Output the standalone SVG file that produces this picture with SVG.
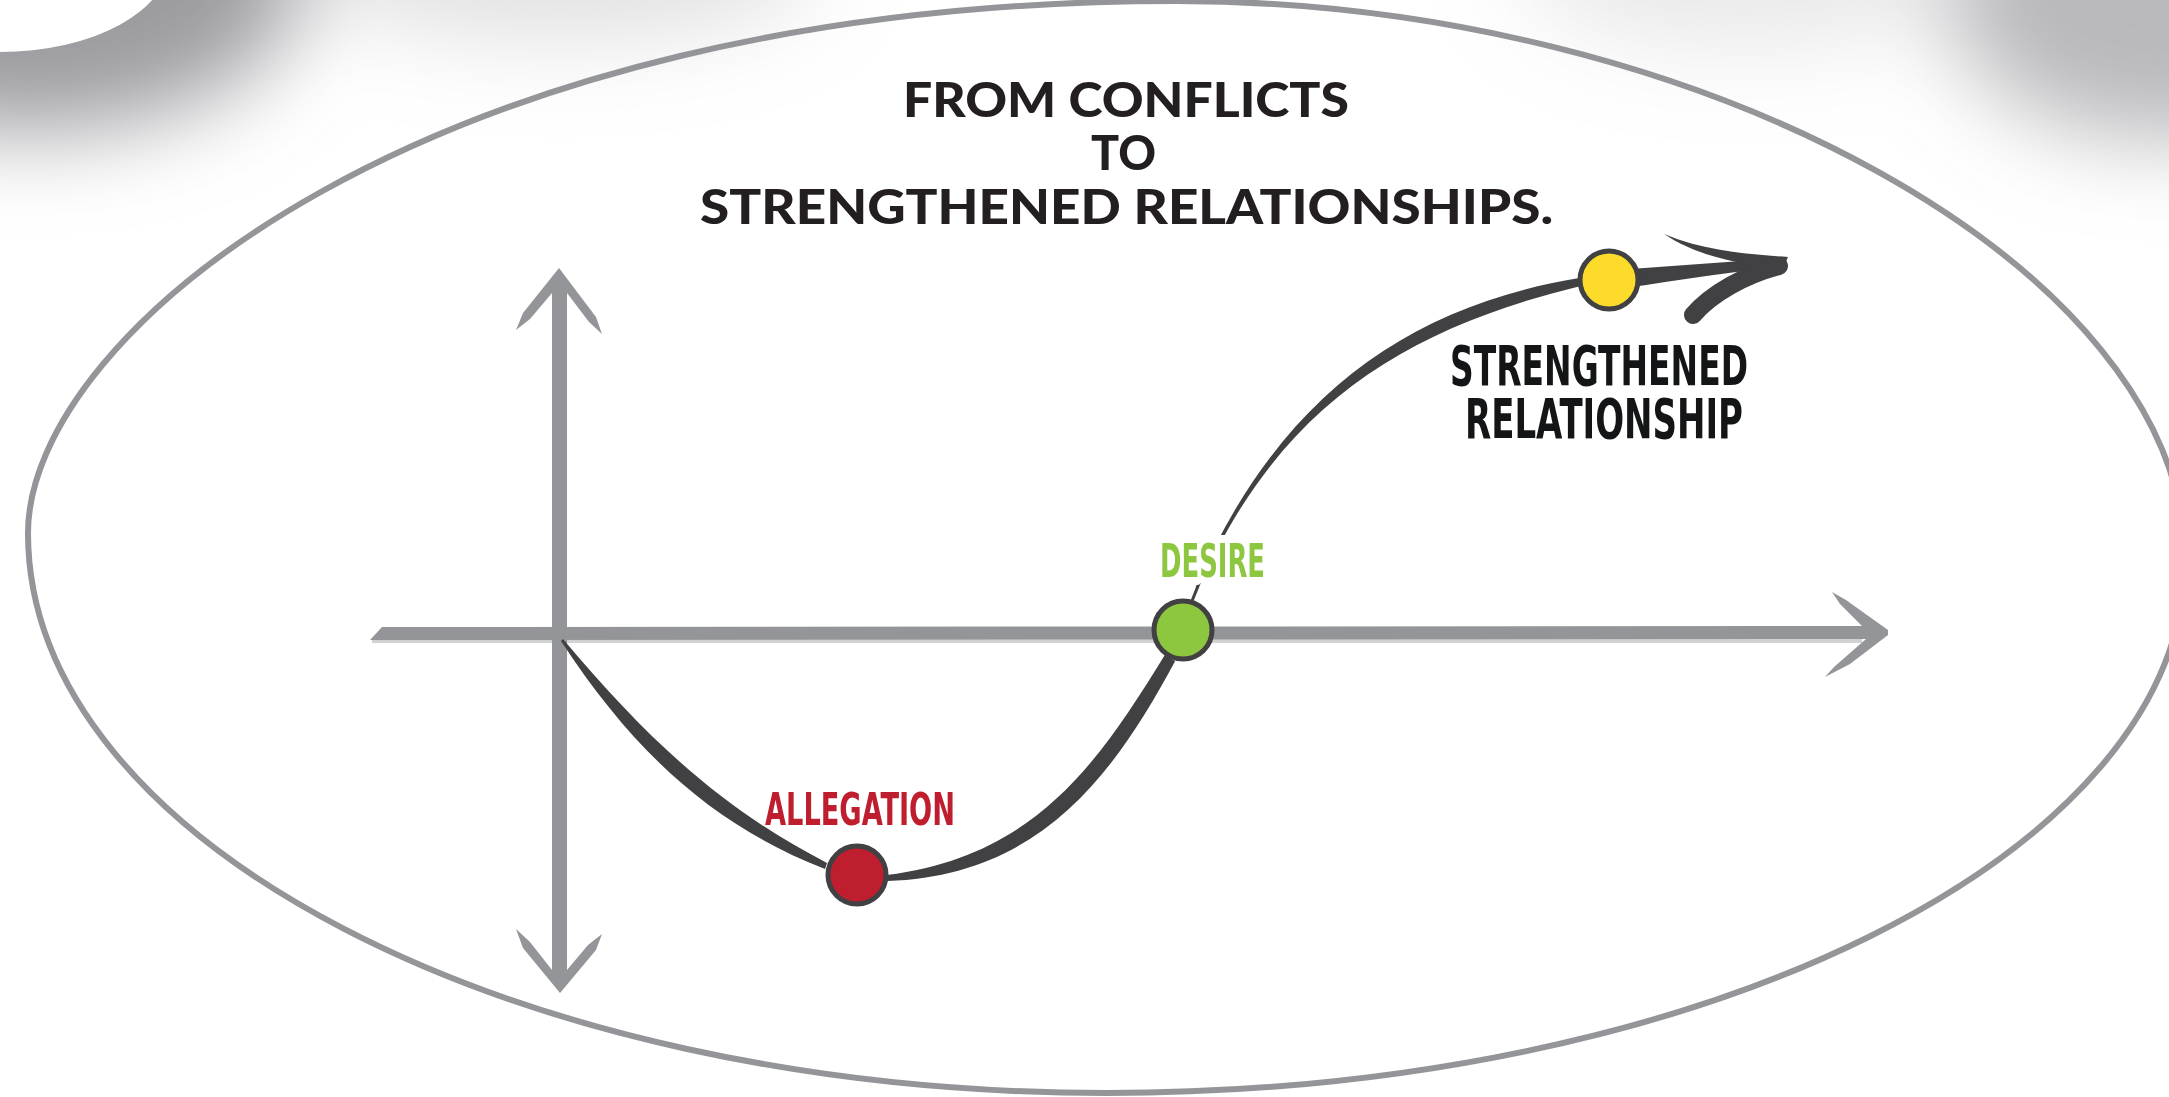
<svg xmlns="http://www.w3.org/2000/svg" width="2169" height="1097" viewBox="0 0 2169 1097">
<defs>
<filter id="soft" x="-50%" y="-50%" width="200%" height="200%"><feGaussianBlur stdDeviation="45"/></filter>
<style>
.axis{fill:#939598}
.curve{fill:#414042}
.dot{stroke:#414042;stroke-width:5}
.title{font-family:Lato,'Liberation Sans',sans-serif;font-weight:900;font-size:48px;fill:#231f20}
.hand{font-family:'DejaVu Sans Condensed','DejaVu Sans',sans-serif;font-weight:bold}
</style>
</defs>
<rect width="2169" height="1097" fill="#ffffff"/>
<g id="shading">
<g filter="url(#soft)">
<ellipse cx="30" cy="-20" rx="270" ry="150" fill="#8a8a8f" opacity="0.85"/>
<ellipse cx="560" cy="-40" rx="260" ry="80" fill="#9a9a9f" opacity="0.3"/>
<ellipse cx="1745" cy="-40" rx="230" ry="90" fill="#9a9a9f" opacity="0.22"/>
<ellipse cx="2169" cy="0" rx="220" ry="140" fill="#8a8a8f" opacity="0.6"/>
</g>
<ellipse cx="0" cy="-40" rx="169" ry="92" fill="#ffffff"/>
</g>
<path id="frame" d="M28,533 C28,333 426,1 1176,1 C1701,1 2185,269 2185,560 C2185,854 1702,1093 1107,1093 C511,1093 28,842 28,533 Z" fill="none" stroke="#939598" stroke-width="6"/>
<g id="title">
<text class="title" x="903" y="117" textLength="446" lengthAdjust="spacingAndGlyphs">FROM CONFLICTS</text>
<text class="title" x="1091" y="170" textLength="65" lengthAdjust="spacingAndGlyphs">TO</text>
<text class="title" x="700" y="224" textLength="853" lengthAdjust="spacingAndGlyphs">STRENGTHENED RELATIONSHIPS.</text>
</g>
<g id="axes">
<rect x="372" y="638" width="1490" height="5" fill="#d1d2d4"/>
<polygon class="axis" points="370,640 382,627 1862,626 1840,604 1832,592 1846,600 1888,630 1888,635 1850,664 1825,677 1834,667 1866,639"/>
<polygon class="axis" points="559,268 596,317 602,334 589,322 567,293 567,970 588,945 602,934 596,950 560,993 523,948 516,929 530,942 552,970 552,293 530,319 516,330 523,313"/>
</g>
<g id="connectors">
<path class="curve" d="M563,639 C647,739 722,809 827,863 L825,869 C712,825 633,751 561,641 Z"/>
<path class="curve" d="M886.8,875 C1035,856 1097.5,764.4 1164.8,655 L1175.2,661 C1112.5,777.6 1039,876 887.2,881 Z"/>
<line x1="1186" y1="616" x2="1198" y2="586" stroke="#414042" stroke-width="3"/>
<path class="curve" d="M1195.6,587.4 C1275.3,403.3 1401.4,307.2 1579.2,278.1 L1580.8,285.9 C1405.8,328.8 1278.7,404.7 1198.4,588.6 Z"/>
<path class="curve" d="M1600,271 C1660,267 1720,262 1782,258 L1782,267 C1720,272 1660,284 1600,291 Z"/>
<path class="curve" d="M1664,234 C1705,251 1745,254 1788,257 L1783,268 C1745,265 1700,258 1664,234 Z"/>
<path d="M1779,266 C1745,275 1712,293 1693,315" fill="none" stroke="#414042" stroke-width="18" stroke-linecap="round"/>
</g>
<g id="node-allegation">
<circle class="dot" cx="857" cy="875" r="29" fill="#be1e2d"/>
<text class="hand" x="765" y="825" font-size="44" fill="#be1e2d" textLength="190" lengthAdjust="spacingAndGlyphs">ALLEGATION</text>
</g>
<g id="node-desire">
<circle class="dot" cx="1183" cy="630" r="29" fill="#8dc63f"/>
<text class="hand" x="1160" y="577" font-size="46" fill="#8dc63f" stroke="#ffffff" stroke-width="16" paint-order="stroke" stroke-linejoin="round" textLength="105" lengthAdjust="spacingAndGlyphs">DESIRE</text>
</g>
<g id="node-strengthened">
<circle class="dot" cx="1609" cy="280" r="29" fill="#fcdb2a"/>
<text class="hand" x="1450" y="385" font-size="56" fill="#131517" textLength="298" lengthAdjust="spacingAndGlyphs">STRENGTHENED</text>
<text class="hand" x="1465" y="438" font-size="56" fill="#131517" textLength="278" lengthAdjust="spacingAndGlyphs">RELATIONSHIP</text>
</g>
</svg>
